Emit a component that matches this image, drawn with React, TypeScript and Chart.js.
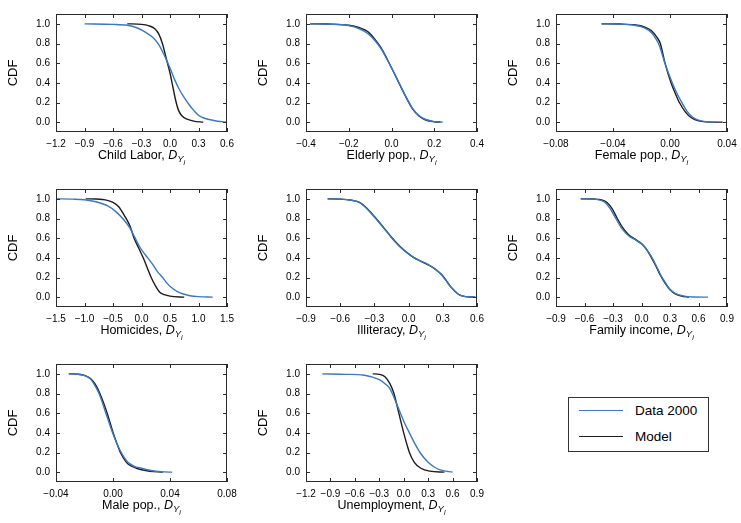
import React, { useEffect, useRef } from 'react';
import { Chart, registerables } from 'chart.js';

Chart.register(...registerables);

const BLUE = '#3a78c3';
const BLACK = '#1c1c1c';
const FONT = '"Liberation Sans", Arial, Helvetica, sans-serif';

// y ticks shared by every panel
const cdfTicks = [0, 0.2, 0.4, 0.6, 0.8, 1.0];

// x tick values
const childLaborTicks = [-1.2, -0.9, -0.6, -0.3, 0, 0.3, 0.6];
const elderlyTicks = [-0.4, -0.2, 0, 0.2, 0.4];
const femaleTicks = [-0.08, -0.04, 0, 0.04];
const homicidesTicks = [-1.5, -1.0, -0.5, 0, 0.5, 1.0, 1.5];
const illiteracyTicks = [-0.9, -0.6, -0.3, 0, 0.3, 0.6];
const incomeTicks = [-0.9, -0.6, -0.3, 0, 0.3, 0.6, 0.9];
const maleTicks = [-0.04, 0, 0.04, 0.08];
const unemploymentTicks = [-1.2, -0.9, -0.6, -0.3, 0, 0.3, 0.6, 0.9];

// series: [x, CDF]
const childLaborData = [[-0.9, 1.0], [-0.6, 0.995], [-0.45, 0.985], [-0.35, 0.96], [-0.25, 0.91], [-0.18, 0.86], [-0.12, 0.79], [-0.06, 0.68], [0, 0.55], [0.05, 0.43], [0.1, 0.33], [0.15, 0.25], [0.2, 0.18], [0.25, 0.12], [0.3, 0.07], [0.35, 0.045], [0.4, 0.03], [0.5, 0.01], [0.6, 0.0]];
const childLaborModel = [[-0.45, 1.0], [-0.3, 0.995], [-0.22, 0.98], [-0.16, 0.95], [-0.12, 0.9], [-0.08, 0.8], [-0.04, 0.65], [0, 0.5], [0.03, 0.36], [0.06, 0.22], [0.09, 0.12], [0.13, 0.06], [0.18, 0.03], [0.25, 0.01], [0.35, 0.0]];

const elderlyData = [[-0.38, 1.0], [-0.3, 0.997], [-0.2, 0.982], [-0.15, 0.95], [-0.11, 0.9], [-0.08, 0.835], [-0.05, 0.75], [-0.02, 0.635], [0.01, 0.51], [0.04, 0.38], [0.07, 0.25], [0.1, 0.135], [0.13, 0.065], [0.16, 0.027], [0.2, 0.006], [0.24, 0.0]];
const elderlyModel = [[-0.38, 1.0], [-0.3, 0.998], [-0.2, 0.985], [-0.15, 0.96], [-0.11, 0.92], [-0.08, 0.85], [-0.05, 0.76], [-0.02, 0.64], [0.01, 0.51], [0.04, 0.375], [0.07, 0.245], [0.1, 0.13], [0.13, 0.06], [0.16, 0.022], [0.2, 0.004], [0.23, 0.0]];

const femaleData = [[-0.048, 1.0], [-0.035, 0.997], [-0.025, 0.985], [-0.018, 0.96], [-0.013, 0.91], [-0.01, 0.85], [-0.0075, 0.78], [-0.004, 0.62], [0.001, 0.42], [0.004, 0.32], [0.0075, 0.22], [0.012, 0.11], [0.016, 0.05], [0.02, 0.02], [0.025, 0.005], [0.031, 0.0]];
const femaleModel = [[-0.048, 1.0], [-0.035, 0.998], [-0.025, 0.99], [-0.018, 0.97], [-0.013, 0.93], [-0.009, 0.86], [-0.0068, 0.8], [-0.0035, 0.6], [0.0007, 0.4], [0.0035, 0.3], [0.0066, 0.2], [0.011, 0.1], [0.015, 0.045], [0.0195, 0.015], [0.025, 0.003], [0.037, 0.0]];

const homicidesData = [[-1.5, 1.0], [-1.2, 0.997], [-1.0, 0.99], [-0.8, 0.97], [-0.6, 0.93], [-0.45, 0.87], [-0.3, 0.78], [-0.2, 0.7], [-0.12, 0.61], [-0.03, 0.51], [0.04, 0.45], [0.11, 0.4], [0.2, 0.33], [0.28, 0.26], [0.37, 0.2], [0.45, 0.14], [0.52, 0.1], [0.62, 0.06], [0.72, 0.035], [0.85, 0.015], [1.0, 0.005], [1.25, 0.0]];
const homicidesModel = [[-0.98, 1.0], [-0.8, 0.998], [-0.6, 0.985], [-0.5, 0.965], [-0.4, 0.92], [-0.3, 0.83], [-0.2, 0.72], [-0.13, 0.6], [-0.05, 0.5], [0.03, 0.4], [0.1, 0.3], [0.17, 0.2], [0.25, 0.11], [0.32, 0.05], [0.4, 0.025], [0.5, 0.01], [0.75, 0.0]];

const illiteracyData = [[-0.71, 1.0], [-0.6, 0.997], [-0.5, 0.985], [-0.43, 0.962], [-0.37, 0.905], [-0.3, 0.815], [-0.22, 0.705], [-0.15, 0.605], [-0.07, 0.505], [0, 0.44], [0.05, 0.4], [0.1, 0.372], [0.15, 0.345], [0.2, 0.312], [0.25, 0.27], [0.29, 0.225], [0.33, 0.165], [0.36, 0.118], [0.39, 0.078], [0.42, 0.045], [0.45, 0.02], [0.5, 0.005], [0.6, 0.0]];
const illiteracyModel = [[-0.71, 1.0], [-0.6, 0.997], [-0.5, 0.985], [-0.43, 0.965], [-0.37, 0.91], [-0.3, 0.82], [-0.22, 0.71], [-0.15, 0.61], [-0.07, 0.51], [0, 0.44], [0.05, 0.4], [0.1, 0.37], [0.15, 0.34], [0.2, 0.31], [0.25, 0.27], [0.29, 0.23], [0.33, 0.17], [0.36, 0.12], [0.39, 0.08], [0.42, 0.045], [0.45, 0.02], [0.5, 0.005], [0.58, 0.0]];

const incomeData = [[-0.64, 1.0], [-0.5, 0.997], [-0.43, 0.985], [-0.38, 0.96], [-0.33, 0.9], [-0.27, 0.8], [-0.2, 0.69], [-0.13, 0.62], [-0.06, 0.58], [0, 0.54], [0.05, 0.49], [0.1, 0.42], [0.15, 0.33], [0.2, 0.23], [0.25, 0.15], [0.3, 0.08], [0.36, 0.035], [0.45, 0.01], [0.55, 0.002], [0.7, 0.0]];
const incomeModel = [[-0.64, 1.0], [-0.5, 0.998], [-0.42, 0.99], [-0.36, 0.96], [-0.31, 0.9], [-0.26, 0.81], [-0.2, 0.71], [-0.13, 0.63], [-0.06, 0.585], [0, 0.545], [0.05, 0.49], [0.1, 0.41], [0.15, 0.32], [0.2, 0.22], [0.25, 0.14], [0.3, 0.075], [0.36, 0.03], [0.42, 0.01], [0.5, 0.0]];

const maleData = [[-0.031, 1.0], [-0.025, 0.996], [-0.02, 0.982], [-0.016, 0.95], [-0.0135, 0.9], [-0.0098, 0.8], [-0.005, 0.6], [-0.0003, 0.4], [0.0025, 0.3], [0.0058, 0.2], [0.0105, 0.1], [0.015, 0.06], [0.02, 0.04], [0.025, 0.022], [0.03, 0.01], [0.036, 0.003], [0.0415, 0.0]];
const maleModel = [[-0.031, 1.0], [-0.025, 0.997], [-0.02, 0.985], [-0.016, 0.955], [-0.0127, 0.9], [-0.0092, 0.8], [-0.0041, 0.6], [0.0001, 0.4], [0.0025, 0.3], [0.0052, 0.2], [0.0094, 0.1], [0.013, 0.06], [0.0164, 0.04], [0.02, 0.025], [0.0257, 0.01], [0.035, 0.0]];

const unemploymentData = [[-1.0, 1.0], [-0.7, 0.995], [-0.5, 0.988], [-0.4, 0.97], [-0.3, 0.94], [-0.23, 0.9], [-0.17, 0.85], [-0.09, 0.7], [-0.04, 0.6], [0.01, 0.5], [0.07, 0.4], [0.13, 0.3], [0.2, 0.2], [0.3, 0.1], [0.38, 0.05], [0.46, 0.02], [0.6, 0.0]];
const unemploymentModel = [[-0.38, 1.0], [-0.3, 0.995], [-0.23, 0.97], [-0.17, 0.9], [-0.12, 0.8], [-0.06, 0.6], [0, 0.4], [0.04, 0.28], [0.07, 0.2], [0.13, 0.1], [0.21, 0.04], [0.32, 0.01], [0.5, 0.0]];

const legendLabels = ['Data 2000', 'Model'];

type Panel = {
  name: string;
  data: number[][];
  model: number[][];
  xTicks: number[];
  dec: number;
  col: number;
  row: number;
};

const panels: Panel[] = [
  { name: 'Child Labor, ', data: childLaborData, model: childLaborModel, xTicks: childLaborTicks, dec: 1, col: 0, row: 0 },
  { name: 'Elderly pop., ', data: elderlyData, model: elderlyModel, xTicks: elderlyTicks, dec: 1, col: 1, row: 0 },
  { name: 'Female pop., ', data: femaleData, model: femaleModel, xTicks: femaleTicks, dec: 2, col: 2, row: 0 },
  { name: 'Homicides, ', data: homicidesData, model: homicidesModel, xTicks: homicidesTicks, dec: 1, col: 0, row: 1 },
  { name: 'Illiteracy, ', data: illiteracyData, model: illiteracyModel, xTicks: illiteracyTicks, dec: 1, col: 1, row: 1 },
  { name: 'Family income, ', data: incomeData, model: incomeModel, xTicks: incomeTicks, dec: 1, col: 2, row: 1 },
  { name: 'Male pop., ', data: maleData, model: maleModel, xTicks: maleTicks, dec: 2, col: 0, row: 2 },
  { name: 'Unemployment, ', data: unemploymentData, model: unemploymentModel, xTicks: unemploymentTicks, dec: 1, col: 1, row: 2 },
];

const CW = 250;
const CH = 175;

function fmt(v: number, dec: number) {
  const s = Math.abs(v) < 1e-9 ? (0).toFixed(dec) : v.toFixed(dec);
  return s.replace('-', '\u2212');
}

const framePlugin = {
  id: 'frame',
  afterDraw(chart: any, _args: any, opts: any) {
    const { ctx, chartArea: a, scales } = chart;
    ctx.save();
    ctx.strokeStyle = '#2a2a2a';
    ctx.lineWidth = 1;
    ctx.strokeRect(a.left + 0.5, a.top + 0.5, a.right - a.left - 1, a.bottom - a.top - 1);
    const TL = 4;
    ctx.beginPath();
    scales.x.ticks.forEach((t: any) => {
      const px = Math.round(scales.x.getPixelForValue(t.value)) + 0.5;
      ctx.moveTo(px, a.bottom);
      ctx.lineTo(px, a.bottom - TL);
      ctx.moveTo(px, a.top);
      ctx.lineTo(px, a.top + TL);
    });
    scales.y.ticks.forEach((t: any) => {
      const py = Math.round(scales.y.getPixelForValue(t.value)) + 0.5;
      ctx.moveTo(a.left, py);
      ctx.lineTo(a.left + TL, py);
      ctx.moveTo(a.right, py);
      ctx.lineTo(a.right - TL, py);
    });
    ctx.stroke();

    // y title
    ctx.fillStyle = '#000';
    ctx.font = `13px ${FONT}`;
    ctx.textAlign = 'center';
    ctx.textBaseline = 'middle';
    ctx.save();
    ctx.translate(13.5, (a.top + a.bottom) / 2);
    ctx.rotate(-Math.PI / 2);
    ctx.fillText('CDF', 0, 0);
    ctx.restore();

    // x title with subscripts
    const name: string = opts.name;
    ctx.textAlign = 'left';
    ctx.textBaseline = 'alphabetic';
    const f1 = `12.5px ${FONT}`;
    const f2 = `italic 12.5px ${FONT}`;
    const f3 = `italic 9.5px ${FONT}`;
    const f4 = `italic 7px ${FONT}`;
    ctx.font = f1; const w1 = ctx.measureText(name).width;
    ctx.font = f2; const w2 = ctx.measureText('D').width;
    ctx.font = f3; const w3 = ctx.measureText('Y').width;
    ctx.font = f4; const w4 = ctx.measureText('i').width;
    const total = w1 + w2 + w3 + w4;
    let x = (a.left + a.right) / 2 - total / 2;
    const base = a.bottom + 26.5;
    ctx.font = f1; ctx.fillText(name, x, base); x += w1;
    ctx.font = f2; ctx.fillText('D', x, base); x += w2;
    ctx.font = f3; ctx.fillText('Y', x, base + 3.5); x += w3;
    ctx.font = f4; ctx.fillText('i', x, base + 6.5);
    ctx.restore();
  },
};

function PanelChart({ p }: { p: Panel }) {
  const ref = useRef<HTMLCanvasElement | null>(null);
  useEffect(() => {
    if (!ref.current) return;
    const toPts = (arr: number[][]) => arr.map(([x, y]) => ({ x, y }));
    const chart = new Chart(ref.current, {
      type: 'scatter',
      data: {
        datasets: [
          {
            label: legendLabels[0],
            data: toPts(p.data),
            showLine: true,
            borderColor: BLUE,
            backgroundColor: BLUE,
            borderWidth: 1.4,
            pointRadius: 0,
            cubicInterpolationMode: 'monotone',
          },
          {
            label: legendLabels[1],
            data: toPts(p.model),
            showLine: true,
            borderColor: BLACK,
            backgroundColor: BLACK,
            borderWidth: 1.4,
            pointRadius: 0,
            cubicInterpolationMode: 'monotone',
          },
        ],
      },
      options: {
        animation: false,
        responsive: false,
        maintainAspectRatio: false,
        devicePixelRatio: 1,
        layout: { padding: { left: 0, right: 23, top: 14, bottom: 0 } },
        plugins: {
          legend: { display: false },
          tooltip: { enabled: false },
          frame: { name: p.name },
        } as any,
        scales: {
          x: {
            type: 'linear',
            min: p.xTicks[0],
            max: p.xTicks[p.xTicks.length - 1],
            afterBuildTicks: (s: any) => {
              s.ticks = p.xTicks.map((v) => ({ value: v }));
            },
            afterFit: (s: any) => {
              s.height = 43;
            },
            grid: { display: false, drawTicks: false },
            border: { display: false },
            ticks: {
              autoSkip: false,
              maxRotation: 0,
              minRotation: 0,
              padding: 6,
              color: '#000',
              font: { family: FONT, size: 10 },
              callback: (v: any) => fmt(Number(v), p.dec),
            },
          },
          y: {
            type: 'linear',
            min: -0.1,
            max: 1.1,
            afterBuildTicks: (s: any) => {
              s.ticks = cdfTicks.map((v) => ({ value: v }));
            },
            afterFit: (s: any) => {
              s.width = 56;
            },
            grid: { display: false, drawTicks: false },
            border: { display: false },
            ticks: {
              autoSkip: false,
              padding: 6,
              color: '#000',
              font: { family: FONT, size: 10 },
              callback: (v: any) => fmt(Number(v), 1),
            },
          },
        },
      },
      plugins: [framePlugin],
    } as any);
    return () => chart.destroy();
  }, [p]);
  return (
    <canvas
      ref={ref}
      width={CW}
      height={CH}
      style={{ position: 'absolute', left: p.col * CW, top: p.row * CH, width: CW, height: CH, display: 'block' }}
    />
  );
}

export default function App() {
  return (
    <div style={{ position: 'absolute', left: 0, top: 0, width: 741, height: 523, background: '#fff', overflow: 'hidden' }}>
      {panels.map((p) => (
        <PanelChart key={p.name} p={p} />
      ))}
      <div
        style={{
          position: 'absolute',
          left: 568,
          top: 397,
          width: 141,
          height: 55,
          boxSizing: 'border-box',
          border: '1px solid #333',
          background: '#fff',
          fontFamily: FONT,
          fontSize: 13.5,
          color: '#000',
        }}
      >
        {legendLabels.map((l, i) => (
          <div key={l} style={{ position: 'absolute', left: 0, top: 4 + i * 25.5, height: 18, width: 139 }}>
            <div
              style={{
                position: 'absolute',
                left: 10,
                top: 8,
                width: 44,
                height: 0,
                borderTop: `1.5px solid ${i === 0 ? BLUE : BLACK}`,
              }}
            />
            <span style={{ position: 'absolute', left: 66, top: 0, lineHeight: '18px', whiteSpace: 'nowrap' }}>{l}</span>
          </div>
        ))}
      </div>
    </div>
  );
}
